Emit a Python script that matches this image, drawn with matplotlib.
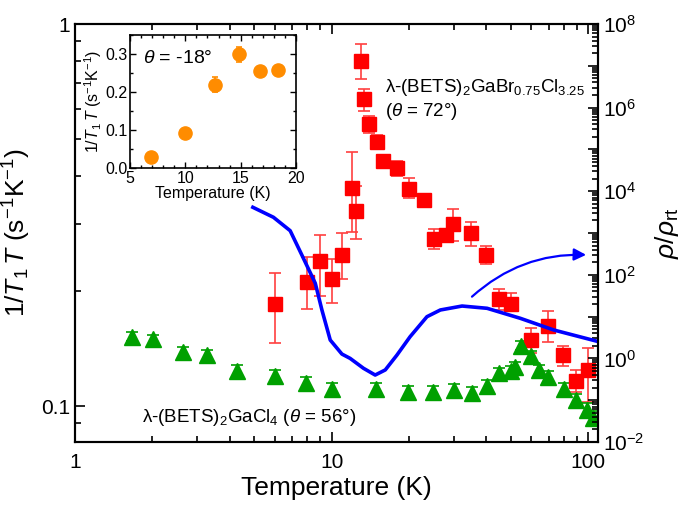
import numpy as np
import matplotlib
matplotlib.use("Agg")
import matplotlib.pyplot as plt
from matplotlib.ticker import LogLocator, FuncFormatter, NullFormatter, MultipleLocator

plt.rcParams['font.family'] = ['Liberation Sans', 'DejaVu Sans']
plt.rcParams['mathtext.fontset'] = 'custom'
plt.rcParams['mathtext.rm'] = 'Liberation Sans'
plt.rcParams['mathtext.it'] = 'Liberation Sans:italic'

# --- data ---
# lambda-(BETS)2GaBr0.75Cl3.25, theta = 72 deg  (1/T1T, left axis)
red_T = [6.0, 8.0, 9.0, 10.0, 11.0, 12.0, 12.4, 13.0, 13.4, 14.0, 15.0, 15.9, 18.0, 20.0,
         22.9, 25.0, 27.9, 29.8, 34.9, 39.9, 45.0, 50.0, 60.0, 69.8, 79.6, 89.6, 99.8]
red_v = [0.185, 0.211, 0.239, 0.215, 0.249, 0.373, 0.324, 0.80, 0.635, 0.546, 0.492, 0.437,
         0.420, 0.371, 0.346, 0.274, 0.280, 0.300, 0.283, 0.249, 0.191, 0.185, 0.149, 0.162,
         0.136, 0.116, 0.124]
red_hi = [0.223, 0.245, 0.281, 0.243, 0.284, 0.463, 0.377, 0.885, 0.676, 0.574, 0.512, 0.454,
          0.439, 0.395, 0.352, 0.290, 0.289, 0.327, 0.304, 0.263, 0.203, 0.198, 0.160, 0.177,
          0.144, 0.124, 0.142]
red_lo = [0.146, 0.179, 0.194, 0.186, 0.215, 0.285, 0.273, 0.716, 0.593, 0.518, 0.473, 0.419,
          0.400, 0.350, 0.340, 0.258, 0.268, 0.271, 0.263, 0.235, 0.178, 0.178, 0.138, 0.147,
          0.127, 0.1085, 0.1025]

# lambda-(BETS)2GaCl4, theta = 56 deg
green_T = [1.66, 2.02, 2.64, 3.26, 4.27, 6.02, 7.95, 10.07, 14.9, 19.9, 24.9, 29.9, 35.2,
           40.3, 45.0, 50.0, 52.0, 54.8, 60.0, 64.4, 69.8, 80.0, 89.3, 98.6, 104.0]
green_v = [0.152, 0.1497, 0.1387, 0.136, 0.1237, 0.120, 0.115, 0.111, 0.111, 0.109, 0.1085,
           0.110, 0.108, 0.1128, 0.1218, 0.1233, 0.1267, 0.1438, 0.1355, 0.1242, 0.1193,
           0.1106, 0.1037, 0.0976, 0.0929]
green_err = [0.004, 0.004, 0.004, 0.004, 0.004, 0.004, 0.004, 0.004, 0.004, 0.004, 0.004,
             0.004, 0.004, 0.004, 0.004, 0.004, 0.004, 0.004, 0.004, 0.004, 0.004, 0.004,
             0.004, 0.004, 0.004]

# resistivity rho/rho_rt (right axis)
rho_T = [4.93, 5.93, 6.89, 7.65, 8.63, 9.16, 9.87, 10.96, 11.8, 13.3, 14.77, 16.17, 17.95,
         20.2, 23.5, 26.5, 32.2, 40.3, 54.3, 73.3, 109.7]
rho_v = [4120, 2377, 1135, 298, 62.7, 14.4, 2.75, 1.27, 1.0, 0.58, 0.40, 0.53, 1.2, 3.3,
         9.95, 14.4, 17.9, 15.8, 9.1, 4.78, 2.51]

# inset, theta = -18 deg
inset_T = [6.9, 10.0, 12.7, 14.85, 16.75, 18.4]
inset_v = [0.030, 0.092, 0.219, 0.299, 0.256, 0.257]
inset_err = [0.0, 0.0, 0.02, 0.02, 0.008, 0.0]

RED = '#ff0000'
GREEN = '#00a000'
BLUE = '#0000ff'
ORANGE = '#ff8c00'

W, H = 682, 505
fig = plt.figure(figsize=(W / 100, H / 100), dpi=100)
ax = fig.add_axes([75 / W, 1 - 442 / H, 523 / W, 418 / H])

red_v = np.array(red_v)
yerr_red = [red_v - np.array(red_lo), np.array(red_hi) - red_v]
ax.errorbar(red_T, red_v, yerr=yerr_red, fmt='s', color=RED, ms=10, mec=RED,
            ecolor=(1, 0.25, 0.25), elinewidth=1.2, capsize=4.5, capthick=1.2, zorder=3)
ax.errorbar(green_T, green_v, yerr=green_err, fmt='^', color=GREEN, ms=11, mec=GREEN,
            ecolor=GREEN, elinewidth=1.2, capsize=4.5, capthick=1.2, zorder=3)

ax.set_xscale('log')
ax.set_yscale('log')
ax.set_xlim(1, 109)
ax.set_ylim(0.0805, 1)

fmt = FuncFormatter(lambda v, p: ('%g' % v))
ax.xaxis.set_major_formatter(fmt)
ax.yaxis.set_major_formatter(fmt)
ax.yaxis.set_minor_formatter(NullFormatter())
ax.xaxis.set_minor_formatter(NullFormatter())
ax.tick_params(which='both', direction='in', top=True, right=False, labelsize=15, width=1.2)
ax.tick_params(which='major', length=7)
ax.tick_params(which='minor', length=4)
ax.tick_params(axis='x', pad=8)
for s in ax.spines.values():
    s.set_linewidth(1.5)

ax.set_xlabel('Temperature (K)', fontsize=19, labelpad=3)
ax.set_ylabel('1/$T_1$$\\,T$ (s$^{-1}$K$^{-1}$)', fontsize=19, labelpad=6)

def px_text(x, y, s, **kw):
    fig.text(x / W, 1 - y / H, s, va='center', ha='left', fontsize=13.5, **kw)

px_text(385, 88, 'λ-(BETS)$_2$GaBr$_{0.75}$Cl$_{3.25}$')
px_text(385, 111, '($\\theta$ = 72°)')
px_text(142, 418, 'λ-(BETS)$_2$GaCl$_4$ ($\\theta$ = 56°)')

# resistivity on the right axis
ax2 = ax.twinx()
ax2.set_yscale('log')
ax2.set_ylim(1e-2, 1e8)
ax2.plot(rho_T, rho_v, color=BLUE, lw=2.6, zorder=2)
ax2.annotate('', xy=(98, 300), xytext=(35.2, 30),
             arrowprops=dict(arrowstyle='-|>', color=BLUE, lw=1.6,
                             mutation_scale=18, connectionstyle='arc3,rad=-0.2',
                             shrinkA=0, shrinkB=0))
ax2.yaxis.set_major_locator(LogLocator(base=10, numticks=20))
ax2.yaxis.set_minor_locator(LogLocator(base=10, subs=np.arange(2, 10), numticks=20))
ax2.yaxis.set_major_formatter(FuncFormatter(
    lambda v, p: ('$10^{%d}$' % round(np.log10(v))) if round(np.log10(v)) % 2 == 0 else ''))
ax2.yaxis.set_minor_formatter(NullFormatter())
ax2.tick_params(which='both', direction='in', labelsize=15, width=1.2)
ax2.tick_params(which='major', length=7)
ax2.tick_params(which='minor', length=4)
ax2.set_ylabel('$\\rho/\\rho_{\\rm rt}$', fontsize=19, labelpad=6)
for s in ax2.spines.values():
    s.set_linewidth(1.5)

# inset
axi = fig.add_axes([130 / W, 1 - 168 / H, 166 / W, 133 / H])
axi.errorbar(inset_T, inset_v, yerr=inset_err, fmt='o', color=ORANGE, ms=9.5,
             ecolor=ORANGE, elinewidth=1.2, capsize=2.5, capthick=1.2)
axi.set_xlim(5, 20)
axi.set_ylim(0, 0.35)
axi.xaxis.set_major_locator(MultipleLocator(5))
axi.xaxis.set_minor_locator(MultipleLocator(1))
axi.yaxis.set_major_locator(MultipleLocator(0.1))
axi.yaxis.set_minor_locator(MultipleLocator(0.05))
axi.yaxis.set_major_formatter(FuncFormatter(lambda v, p: '%.1f' % v))
axi.tick_params(which='both', direction='in', top=True, right=True, labelsize=11.5,
                width=1, pad=2)
axi.tick_params(which='major', length=4)
axi.tick_params(which='minor', length=2)
axi.set_xlabel('Temperature (K)', fontsize=11.5, labelpad=0)
axi.set_ylabel('1/$T_1$$\\,T$ (s$^{-1}$K$^{-1}$)', fontsize=11.5, labelpad=1)
axi.text(0.08, 0.82, '$\\theta$ = -18°', transform=axi.transAxes, fontsize=14,
         va='center', ha='left')
for s in axi.spines.values():
    s.set_linewidth(1.2)

fig.savefig('out.png', dpi=100)
